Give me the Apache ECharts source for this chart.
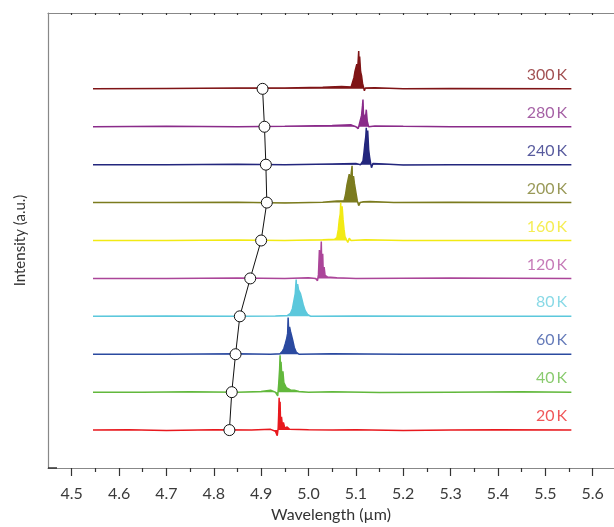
<!DOCTYPE html>
<html>
<head>
<meta charset="utf-8">
<script src="https://cdn.jsdelivr.net/npm/echarts@6/dist/echarts.min.js"></script>
<style>html,body{margin:0;padding:0;background:#fff}#c{width:614px;height:527px}</style>
</head>
<body>
<div id="c"></div>
<script>
// Temperature labels (bottom to top) and their vertical offsets
var temps = ['20 K','40 K','60 K','80 K','120 K','160 K','200 K','240 K','280 K','300 K'];
var offsets = [1,2,3,4,5,6,7,8,9,10];
var traceColors = ['#e8191e','#62b83c','#2b4aa0','#5cc8dc','#ab4599','#f2ea14','#7b7b1e','#23267d','#8a2b8a','#7f1416'];
var labelColors = ['#ec2d2f','#6dbe4b','#3f5aa8','#6ccfe0','#b85aa6','#f2e829','#7f7f2e','#2e3286','#8e3a8e','#8b2427'];
// Peak-marker (open circle) wavelengths per temperature
var circleWl = [4.833,4.838,4.846,4.855,4.877,4.900,4.912,4.910,4.907,4.903];
// Tick values
var majorTicks = [4.5,4.6,4.7,4.8,4.9,5.0,5.1,5.2,5.3,5.4,5.5,5.6];
var minorTicks = [4.55,4.65,4.75,4.85,4.95,5.05,5.15,5.25,5.35,5.45,5.55,5.65];
var topTicks = [4.5,4.55,4.6,4.65,4.7,4.75,4.8,4.85,4.9,4.95,5.0,5.05,5.1,5.15,5.2,5.25,5.3,5.35,5.4,5.45,5.5,5.55,5.6];

// Spectra: [wavelength (um), intensity relative to own baseline]
var s20 = [[4.545,0],[4.62,0.01],[4.7,-0.01],[4.8,0.01],[4.88,0.0],[4.92,0.02],[4.93,-0.03],[4.934,-0.15],[4.936,0.05],[4.937,0.4],[4.938,0.85],[4.939,0.3],[4.940,0.75],[4.941,0.2],[4.943,0.35],[4.945,0.1],[4.947,0.2],[4.95,0.05],[4.955,0.08],[4.96,0.02],[5.0,0.01],[5.05,0.0],[5.1,0.01],[5.2,-0.01],[5.3,0.0],[5.4,0.01],[5.555,0]];
var s40 = [[4.545,0],[4.65,0.0],[4.75,0.01],[4.85,0.0],[4.9,0.02],[4.92,0.05],[4.93,0.0],[4.935,-0.1],[4.937,0.2],[4.939,0.6],[4.940,0.97],[4.941,0.5],[4.942,0.8],[4.944,0.35],[4.946,0.55],[4.948,0.25],[4.950,0.3],[4.953,0.12],[4.957,0.15],[4.962,0.06],[4.97,0.05],[4.98,0.02],[5.0,0.0],[5.05,0.01],[5.15,-0.01],[5.3,0.0],[5.45,0.01],[5.555,0]];
var s60 = [[4.545,0],[4.7,0.0],[4.85,0.01],[4.92,0.0],[4.94,0.01],[4.945,0.08],[4.948,0.15],[4.951,0.28],[4.954,0.42],[4.956,0.55],[4.957,0.97],[4.958,0.65],[4.960,0.72],[4.962,0.6],[4.964,0.5],[4.967,0.35],[4.970,0.18],[4.974,0.06],[4.98,0.0],[5.05,0.01],[5.2,0.0],[5.4,0.0],[5.555,0]];
var s80 = [[4.545,0],[4.7,0.01],[4.85,0.0],[4.93,0.01],[4.955,0.02],[4.962,0.08],[4.966,0.2],[4.969,0.4],[4.972,0.6],[4.974,0.97],[4.975,0.65],[4.977,0.85],[4.979,0.7],[4.981,0.75],[4.983,0.6],[4.986,0.45],[4.989,0.3],[4.993,0.15],[4.998,0.05],[5.005,0.0],[5.1,0.01],[5.3,0.0],[5.555,0]];
var s120 = [[4.545,0],[4.7,0.0],[4.85,0.01],[4.95,0.0],[5.0,0.02],[5.015,0.0],[5.019,-0.06],[5.021,0.1],[5.023,0.75],[5.024,0.2],[5.026,0.6],[5.027,0.97],[5.028,0.3],[5.030,0.65],[5.031,0.2],[5.033,0.3],[5.035,0.08],[5.04,0.04],[5.06,0.02],[5.1,0.0],[5.3,0.01],[5.555,0]];
var s160 = [[4.545,0],[4.7,0.0],[4.85,0.01],[4.95,0.0],[5.03,0.02],[5.055,0.03],[5.06,0.08],[5.063,0.3],[5.065,0.55],[5.067,0.7],[5.068,1.0],[5.069,0.5],[5.071,0.9],[5.073,0.55],[5.075,0.3],[5.077,0.1],[5.08,0.05],[5.083,-0.05],[5.086,0.06],[5.09,0.0],[5.12,0.02],[5.2,0.0],[5.555,0]];
var s200 = [[4.545,0],[4.7,0.0],[4.85,0.01],[4.95,-0.01],[5.03,0.01],[5.06,0.04],[5.075,0.05],[5.078,0.2],[5.081,0.45],[5.084,0.5],[5.086,0.75],[5.088,0.55],[5.090,0.6],[5.092,0.97],[5.093,0.4],[5.095,0.7],[5.097,0.5],[5.099,0.45],[5.101,0.2],[5.103,0.05],[5.106,-0.08],[5.109,0.0],[5.112,-0.05],[5.116,0.02],[5.13,0.03],[5.18,0.0],[5.3,0.01],[5.555,0]];
var s240 = [[4.545,0],[4.7,0.0],[4.85,0.01],[4.95,0.0],[5.05,0.02],[5.1,0.03],[5.11,0.0],[5.113,-0.05],[5.115,0.1],[5.117,0.3],[5.119,0.55],[5.121,0.75],[5.122,0.97],[5.123,0.6],[5.125,0.9],[5.127,0.4],[5.129,0.2],[5.131,0.05],[5.133,-0.08],[5.136,0.03],[5.14,0.0],[5.16,0.02],[5.2,-0.01],[5.3,0.0],[5.555,0]];
var s280 = [[4.545,0],[4.7,0.01],[4.85,0.0],[4.95,0.01],[5.05,0.03],[5.09,0.05],[5.1,0.0],[5.105,-0.05],[5.108,0.1],[5.11,0.2],[5.112,0.3],[5.114,0.55],[5.115,0.72],[5.116,0.35],[5.118,0.4],[5.12,0.2],[5.122,0.45],[5.124,0.15],[5.127,0.0],[5.13,-0.03],[5.14,0.02],[5.2,0.01],[5.3,0.0],[5.555,0]];
var s300 = [[4.545,0],[4.7,0.01],[4.85,0.02],[4.95,0.02],[5.03,0.04],[5.07,0.06],[5.09,0.05],[5.093,0.1],[5.096,0.3],[5.098,0.45],[5.1,0.5],[5.102,0.65],[5.104,0.55],[5.106,1.0],[5.107,0.5],[5.108,0.85],[5.11,0.45],[5.112,0.35],[5.114,0.15],[5.116,0.05],[5.118,-0.05],[5.12,0.02],[5.14,0.03],[5.2,0.0],[5.3,0.01],[5.555,0]];
var spectra = [s20,s40,s60,s80,s120,s160,s200,s240,s280,s300];

var FONT = 'Lato, "Open Sans", sans-serif';
var series = [];
spectra.forEach(function(sp, i){
  var off = offsets[i];
  series.push({
    type:'line', name: temps[i], showSymbol:false, symbol:'none', animation:false,
    data: sp.map(function(p){return [p[0], p[1]+off];}),
    lineStyle:{color:traceColors[i], width:1.5},
    itemStyle:{color:traceColors[i]},
    areaStyle:{color:traceColors[i], opacity:1, origin: off},
    z:2
  });
  series.push({
    type:'scatter', symbolSize:0, animation:false, silent:true,
    data:[[5.546, off+0.37]],
    label:{show:true, position:'left', distance:0, formatter: temps[i].replace(' ', '\u2009'),
      color: labelColors[i], fontSize:16, fontFamily:FONT},
    z:3
  });
});
series.push({
  type:'line', animation:false,
  data: circleWl.map(function(w,i){return [w, offsets[i]];}),
  symbol:'circle', symbolSize:11, showSymbol:true,
  lineStyle:{color:'#111', width:1},
  itemStyle:{color:'#fff', borderColor:'#111', borderWidth:1},
  z:5
});

var chart = echarts.init(document.getElementById('c'), null, {renderer:'canvas'});
chart.setOption({
  animation:false,
  backgroundColor:'#fff',
  grid:{left:48, right:0, top:13, bottom:59, containLabel:false, outerBoundsMode:'none'},
  xAxis:[
    {type:'value', min:4.45, max:5.645, position:'bottom',
     name:'Wavelength (\u00b5m)', nameLocation:'middle', nameGap:39,
     nameTextStyle:{fontSize:16, color:'#333', fontFamily:FONT},
     axisLine:{show:true, lineStyle:{color:'#888', width:1.2}},
     axisTick:{show:true, customValues:majorTicks, length:8, inside:false, lineStyle:{color:'#333', width:1.2}},
     axisLabel:{show:true, customValues:majorTicks, margin:18, fontSize:16, color:'#3a3a3a',
       fontFamily:FONT, formatter:function(v){return v.toFixed(1);}},
     splitLine:{show:false}},
    {type:'value', min:4.45, max:5.645, position:'bottom', offset:0,
     axisLine:{show:false},
     axisTick:{show:true, customValues:minorTicks, length:4, inside:false, lineStyle:{color:'#333', width:1.2}},
     axisLabel:{show:false}, splitLine:{show:false}},
    {type:'value', min:4.45, max:5.645, position:'top',
     axisLine:{show:true, lineStyle:{color:'#888', width:1.2}},
     axisTick:{show:true, customValues:topTicks, length:2, inside:true, lineStyle:{color:'#333', width:1.2}},
     axisLabel:{show:false}, splitLine:{show:false}}
  ],
  yAxis:{type:'value', min:0, max:12,
    name:'Intensity (a.u.)', nameLocation:'middle', nameGap:20,
    nameTextStyle:{fontSize:15, color:'#333', fontFamily:FONT},
    axisLine:{show:true, lineStyle:{color:'#888', width:1.2}},
    axisTick:{show:true, customValues:[0], inside:true, length:9, lineStyle:{color:'#333', width:1.5}},
    axisLabel:{show:false}, splitLine:{show:false}},
  series: series
});
</script>
</body>
</html>
